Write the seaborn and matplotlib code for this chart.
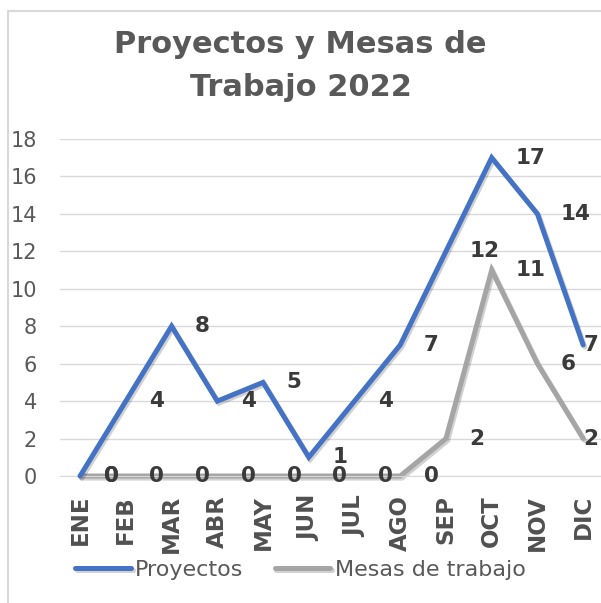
import pandas as pd
import matplotlib
matplotlib.use("Agg")
import matplotlib.pyplot as plt
import matplotlib.patheffects as pe
from matplotlib.lines import Line2D
import seaborn as sns

meses = ["ENE", "FEB", "MAR", "ABR", "MAY", "JUN", "JUL", "AGO", "SEP", "OCT", "NOV", "DIC"]
proyectos = [0, 4, 8, 4, 5, 1, 4, 7, 12, 17, 14, 7]
mesas = [0, 0, 0, 0, 0, 0, 0, 0, 2, 11, 6, 2]
series = ["Proyectos", "Mesas de trabajo"]
colores = ["#4472C4", "#A5A5A5"]

df = pd.DataFrame({
    "mes": list(range(len(meses))) * 2,
    "valor": proyectos + mesas,
    "serie": [series[0]] * len(meses) + [series[1]] * len(meses),
})

sns.set_style("white")
plt.rcParams['font.family'] = ['DejaVu Sans']

fig = plt.figure(figsize=(6.01, 6.03), dpi=100)
ax = fig.add_axes([0.0998, 0.2106, 0.9002, 0.5589])

sns.lineplot(data=df, x="mes", y="valor", hue="serie", hue_order=series,
             palette=colores, linewidth=3.6, legend=False, ax=ax, clip_on=False,
             solid_joinstyle="miter")
sombra = [pe.SimpleLineShadow(offset=(1.2, -1.5), alpha=0.18), pe.Normal()]
for ln in ax.lines:
    ln.set_path_effects(sombra)
# blue on top of gray
ax.lines[0].set_zorder(3)
ax.lines[1].set_zorder(2.5)

# data labels, placed to the right of each point (Excel style)
for serie_vals in [mesas, proyectos]:
    for i, v in enumerate(serie_vals):
        dx = 0 if i == len(serie_vals) - 1 else 17
        ax.annotate(str(v), (i, v), xytext=(dx, 0), textcoords="offset points",
                    ha="left", va="center", fontsize=15.5, fontweight="heavy",
                    color="#3A3A3A", zorder=5, annotation_clip=False)

ax.set_xlim(-0.44, 11.39)
ax.set_ylim(0, 18)
ax.set_yticks(range(0, 19, 2))
ax.set_xticks(range(len(meses)))
ax.set_xticklabels(meses, rotation=90, fontsize=16.5, fontweight="heavy", color="#505050",
                   va="top", ha="center")
ax.tick_params(axis="x", length=0, pad=13.5)
ax.tick_params(axis="y", length=0, pad=16.5, labelsize=15, labelcolor="#595959")
ax.grid(axis="y", color="#D9D9D9", linewidth=1)
ax.set_xlabel("")
ax.set_ylabel("")
for s in ["top", "right", "left"]:
    ax.spines[s].set_visible(False)
ax.spines["bottom"].set_color("#D9D9D9")

ax.legend(handles=ax.lines[:2], labels=series, loc="center", bbox_to_anchor=(0.5, 0.0547),
          bbox_transform=fig.transFigure, ncol=2, frameon=False, fontsize=16,
          handlelength=2.5, handletextpad=0.2, columnspacing=1.4, labelcolor="#595959")

fig.text(0.5, 1 - 66 / 603, "Proyectos y Mesas de\nTrabajo 2022", ha="center", va="center",
         fontsize=22, fontweight="bold", color="#595959", linespacing=1.6)

# chart border
fig.add_artist(Line2D([8 / 601, 8 / 601], [0, 1 - 11 / 603], color="#D9D9D9", lw=1.5))
fig.add_artist(Line2D([8 / 601, 1], [1 - 11 / 603, 1 - 11 / 603], color="#D9D9D9", lw=1.5))

fig.savefig("out.png", dpi=100)
